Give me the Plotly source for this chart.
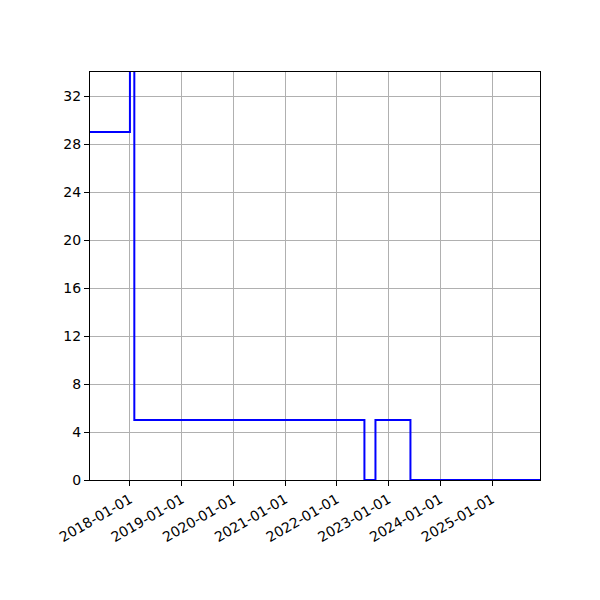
import plotly.graph_objects as go

# step series
dates = ["2017-03-25", "2018-01-01", "2018-02-01",
         "2022-07-15", "2022-10-01", "2023-06-05", "2025-12-06"]
values = [29, 40, 5, 0, 5, 0, 0]

x_range = ["2017-03-25", "2025-12-06"]
y_range = [0, 34]

fig = go.Figure()
fig.add_trace(go.Scatter(
    x=dates,
    y=values,
    mode="lines",
    line=dict(color="blue", width=2, shape="hv"),
))

axis_style = dict(
    showline=True, linecolor="black", linewidth=1, mirror=True,
    ticks="outside", ticklen=5, tickcolor="black",
    showgrid=True, gridcolor="#b0b0b0", gridwidth=1,
    zeroline=False,
    tickfont=dict(family="DejaVu Sans", size=14, color="black"),
)

fig.update_xaxes(
    range=x_range, tickformat="%Y-%m-%d", dtick="M12", tick0="2018-01-01",
    tickangle=-30, **axis_style,
)
fig.update_yaxes(range=y_range, dtick=4, tick0=0, **axis_style)

# the page body adds 8px, so margins are offset by that
fig.update_layout(
    width=600, height=600,
    margin=dict(l=82, r=68, t=64, b=128),
    plot_bgcolor="white", paper_bgcolor="white",
    showlegend=False,
)

fig.write_html("out.html")
